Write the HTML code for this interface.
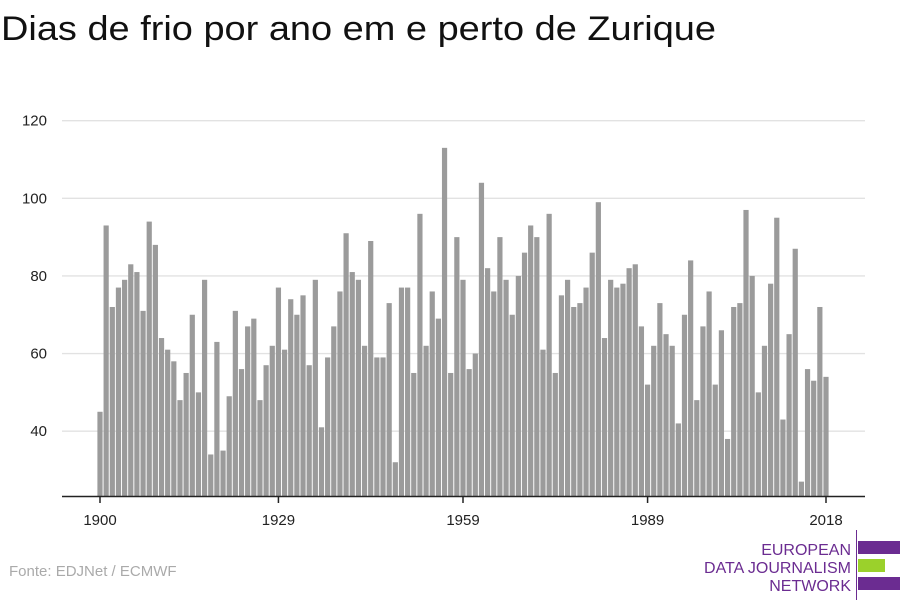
<!DOCTYPE html>
<html><head><meta charset="utf-8"><style>
body{margin:0;background:#fff;font-family:"Liberation Sans",sans-serif;}
svg text{font-family:"Liberation Sans",sans-serif;}
</style></head><body>
<svg id="chart" width="900" height="600" xmlns="http://www.w3.org/2000/svg">
<text x="1" y="40" font-size="34" fill="#111" textLength="715" lengthAdjust="spacingAndGlyphs">Dias de frio por ano em e perto de Zurique</text>
<g id="grid"></g>
<g id="bars"></g>
<g id="axis"></g>
<text x="9" y="576" font-size="15" fill="#aaa">Fonte: EDJNet / ECMWF</text>
<g>
<text x="851" y="555" font-size="16" fill="#6b2c91" text-anchor="end">EUROPEAN</text>
<text x="851" y="573" font-size="16" fill="#6b2c91" text-anchor="end">DATA JOURNALISM</text>
<text x="851" y="591" font-size="16" fill="#6b2c91" text-anchor="end">NETWORK</text>
<rect x="856" y="530" width="1" height="70" fill="#6b2c91"/>
<rect x="858" y="541" width="42" height="13" fill="#6b2c91"/>
<rect x="858" y="559" width="27" height="13" fill="#9bd12b"/>
<rect x="858" y="577" width="42" height="13" fill="#6b2c91"/>
</g>
</svg>
<script>
const startYear = 1900;
const values = [45,93,72,77,79,83,81,71,94,88,
64,61,58,48,55,70,50,79,34,63,
35,49,71,56,67,69,48,57,62,77,
61,74,70,75,57,79,41,59,67,76,
91,81,79,62,89,59,59,73,32,77,
77,55,96,62,76,69,113,55,90,79,
56,60,104,82,76,90,79,70,80,86,
93,90,61,96,55,75,79,72,73,77,
86,99,64,79,77,78,82,83,67,52,
62,73,65,62,42,70,84,48,67,76,
52,66,38,72,73,97,80,50,62,78,
95,43,65,87,27,56,53,72,54];
const yTicks = [40,60,80,100,120];
const xTicks = [1900,1929,1959,1989,2018];
const NS="http://www.w3.org/2000/svg";
const yMin=23.3, y0px=496, pxPer=(431-120.5)/80;
const y=v=>y0px-(v-yMin)*pxPer;
const x=yr=>100+(yr-1900)*(726/118);
const grid=document.getElementById('grid'), bars=document.getElementById('bars'), axis=document.getElementById('axis');
yTicks.forEach(t=>{
  const l=document.createElementNS(NS,'line');
  
  
  l.setAttribute('x1',62);l.setAttribute('x2',865);l.setAttribute('y1',y(t));l.setAttribute('y2',y(t));
  l.setAttribute('stroke','#e2e2e2');l.setAttribute('stroke-width',1.3);grid.appendChild(l);
  const tx=document.createElementNS(NS,'text');
  
  
  tx.setAttribute('x',47);tx.setAttribute('y',y(t)+5);tx.setAttribute('font-size',15);tx.setAttribute('fill','#222');tx.setAttribute('text-anchor','end');
  tx.textContent=t;grid.appendChild(tx);
});
values.forEach((v,i)=>{
  const yr=startYear+i;
  const r=document.createElementNS(NS,'rect');
  
  
  r.setAttribute('x',x(yr)-2.6);r.setAttribute('width',5.2);
  r.setAttribute('y',y(v));r.setAttribute('height',y0px-y(v));r.setAttribute('fill','#9b9b9b');
  bars.appendChild(r);
});
const base=document.createElementNS(NS,'line');


base.setAttribute('x1',62);base.setAttribute('x2',865);base.setAttribute('y1',496.5);base.setAttribute('y2',496.5);
base.setAttribute('stroke','#222');base.setAttribute('stroke-width',1.5);axis.appendChild(base);
xTicks.forEach(t=>{
  const tk=document.createElementNS(NS,'line');
  
  
  tk.setAttribute('x1',x(t));tk.setAttribute('x2',x(t));tk.setAttribute('y1',496);tk.setAttribute('y2',503);
  tk.setAttribute('stroke','#222');tk.setAttribute('stroke-width',1.5);axis.appendChild(tk);
  const tx=document.createElementNS(NS,'text');
  
  
  tx.setAttribute('x',x(t));tx.setAttribute('y',525);tx.setAttribute('font-size',15);tx.setAttribute('fill','#222');tx.setAttribute('text-anchor','middle');
  tx.textContent=t;axis.appendChild(tx);
});
</script>
</body></html>
